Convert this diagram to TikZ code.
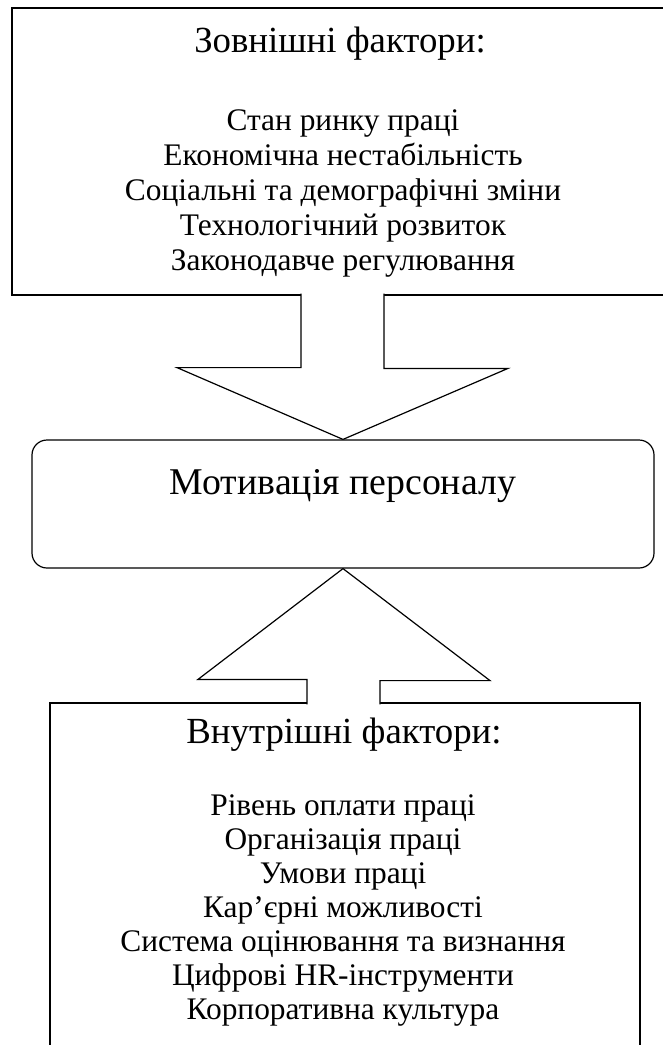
\documentclass[tikz,border=0pt]{standalone}
\usepackage{fontspec}
\setmainfont{Liberation Serif}
\usetikzlibrary{positioning, calc}

\tikzset{
    factorbox/.style={draw, line width=1.2pt, inner sep=0pt},
    motivbox/.style={draw, line width=1.2pt, rounded corners=15pt, inner sep=0pt},
    headtext/.style={font=\fontsize{36.8}{42}\selectfont, inner sep=0pt},
    itemtext/.style={font=\fontsize{31.4}{35}\selectfont, inner sep=0pt},
    blockarrow/.style={draw, fill=white, line width=1.2pt}
}

\begin{document}
\begin{tikzpicture}[x=1pt, y=-1pt]
    \useasboundingbox (0,0) rectangle (663,1045);
    \clip (0,0) rectangle (663,1045);

    % boxes
    \node[factorbox, minimum width=660pt, minimum height=287pt] (ext) at (342,151.5) {};
    \node[motivbox, minimum width=622pt, minimum height=128pt] (motiv) at (343,504) {};
    \node[factorbox, minimum width=590pt, minimum height=380pt] (int) at (345,893) {};

    % texts
    \node[headtext, anchor=base] (exthead) at (340,52) {Зовнішні фактори:};
    \foreach \txt [count=\i] in {Стан ринку праці, Економічна нестабільність,
        Соціальні та демографічні зміни, Технологічний розвиток,
        Законодавче регулювання}
        \node[itemtext, anchor=base] (ext-\i) at (343,{130+35*(\i-1)}) {\txt};

    \node[headtext, font=\fontsize{37.8}{42}\selectfont, anchor=base] (motivhead) at (343,494) {Мотивація персоналу};

    \node[headtext, anchor=base] (inthead) at (344,743) {Внутрішні фактори:};
    \foreach \txt [count=\i] in {Рівень оплати праці, Організація праці,
        Умови праці, Кар’єрні можливості, Система оцінювання та визнання,
        Цифрові HR-інструменти, Корпоративна культура}
        \node[itemtext, anchor=base] (int-\i) at (343,{815+34*(\i-1)}) {\txt};

    % block arrows
    \draw[blockarrow] ($(ext.south)+(-41,-2)$) coordinate (dl)
        -- ++(0,74) -- ++(-124,0) -- (motiv.north) -- ++(165,-71)
        -- ++(-124,0) coordinate (dr) -- (dr |- dl);
    \draw[blockarrow] ($(int.north)+(-38,2)$) coordinate (ul)
        -- ++(0,-25) -- ++(-109,0) -- (motiv.south) -- ++(147,112)
        -- ++(-110,0) coordinate (ur) -- (ur |- ul);
\end{tikzpicture}
\end{document}
